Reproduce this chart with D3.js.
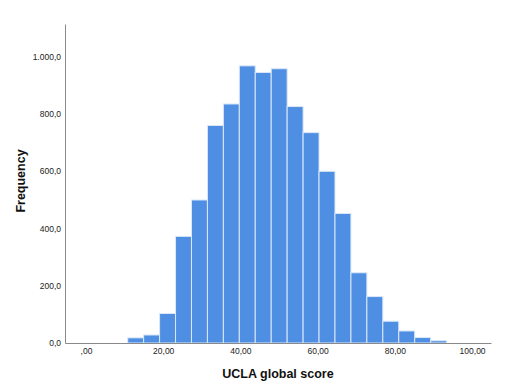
<!DOCTYPE html>
<html>
<head>
<meta charset="utf-8">
<script src="https://cdn.jsdelivr.net/npm/d3@7"></script>
<style>
  body { margin: 0; background: #fff; }
  text { font-family: Arial, "Liberation Sans", sans-serif; }
</style>
</head>
<body>
<div id="wrapper"></div>
<script>
// data
const binEdges = [10.8, 14.93, 19.06, 23.19, 27.32, 31.45, 35.58, 39.71, 43.84, 47.97,
  52.10, 56.23, 60.36, 64.49, 68.62, 72.75, 76.88, 81.01, 85.14, 89.27, 93.40]
const counts = [18, 28, 103, 372, 499, 759, 834, 967, 944, 957,
  825, 734, 599, 452, 245, 162, 76, 42, 19, 8]
const xTicks = [0, 20, 40, 60, 80, 100]
const yTicks = [0, 200, 400, 600, 800, 1000]
const xTitle = "UCLA global score"
const yTitle = "Frequency"

const bins = counts.map((c, i) => ({ x0: binEdges[i], x1: binEdges[i + 1], count: c }))

const width = 510
const height = 390
const plot = { left: 65, right: 491, top: 24, bottom: 343 }

const svg = d3.select("#wrapper")
  .append("svg")
    .attr("width", width)
    .attr("height", height)

const xScale = d3.scaleLinear()
  .domain([-5.44, 104.9])
  .range([plot.left, plot.right])

const yScale = d3.scaleLinear()
  .domain([0, 1113])
  .range([plot.bottom, plot.top])

const locale = d3.formatLocale({ decimal: ",", thousands: ".", grouping: [3], currency: ["", ""] })
const fmtY = locale.format(",.1f")
const fmtX = d => d === 0 ? ",00" : locale.format(".2f")(d)

// bars
svg.append("g")
  .selectAll("rect")
  .data(bins)
  .join("rect")
    .attr("x", d => xScale(d.x0))
    .attr("y", d => yScale(d.count))
    .attr("width", d => xScale(d.x1) - xScale(d.x0))
    .attr("height", d => yScale(0) - yScale(d.count))
    .attr("fill", "#4f8fe3")
    .attr("stroke", "#dbe8f8")
    .attr("stroke-width", 1)

// axes
const yAxis = svg.append("g")
  .attr("transform", `translate(${plot.left},0)`)
  .call(d3.axisLeft(yScale).tickValues(yTicks).tickSize(0).tickPadding(4).tickFormat(fmtY))
yAxis.select(".domain").attr("stroke", "#8a8a8a")
yAxis.selectAll("text")
  .attr("fill", "#222")
  .style("font-size", "8.5px")

const xAxis = svg.append("g")
  .attr("transform", `translate(0,${plot.bottom})`)
  .call(d3.axisBottom(xScale).tickValues(xTicks).tickSize(0).tickPadding(5).tickFormat(fmtX))
xAxis.select(".domain").attr("stroke", "#8a8a8a")
xAxis.selectAll("text")
  .attr("fill", "#222")
  .style("font-size", "8.5px")

// titles
svg.append("text")
  .attr("x", 278)
  .attr("y", 378)
  .attr("text-anchor", "middle")
  .style("font-size", "12.5px")
  .style("font-weight", "bold")
  .attr("fill", "#111")
  .text(xTitle)

svg.append("text")
  .attr("transform", "translate(25,181) rotate(-90)")
  .attr("text-anchor", "middle")
  .style("font-size", "12.5px")
  .style("font-weight", "bold")
  .attr("fill", "#111")
  .text(yTitle)
</script>
</body>
</html>
